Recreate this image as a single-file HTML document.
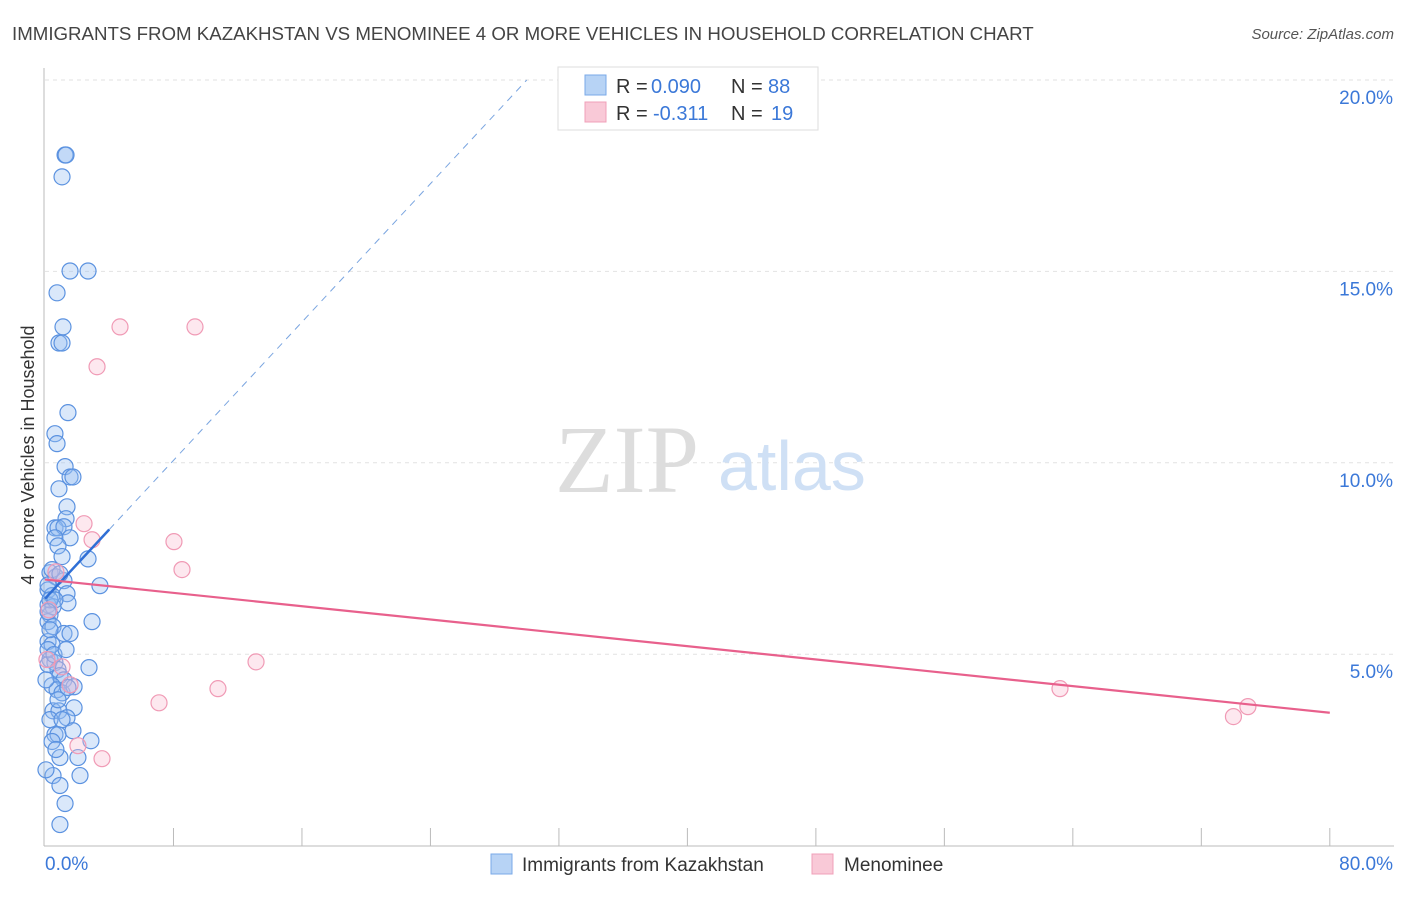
<!DOCTYPE html>
<html><head><meta charset="utf-8"><style>
body{margin:0;background:#fff;font-family:"Liberation Sans",sans-serif}
</style></head><body>
<svg width="1406" height="892" xmlns="http://www.w3.org/2000/svg" style="font-family:'Liberation Sans',sans-serif">
<text x="12" y="40" font-size="18.7" fill="#444">IMMIGRANTS FROM KAZAKHSTAN VS MENOMINEE 4 OR MORE VEHICLES IN HOUSEHOLD CORRELATION CHART</text>
<text x="1394" y="39" font-size="15" fill="#555" font-style="italic" text-anchor="end">Source: ZipAtlas.com</text>
<g id="grid"></g>
<text x="555" y="492" font-size="96" fill="#ddd" font-family="Liberation Serif">ZIP</text>
<text x="718" y="490" font-size="70" fill="#cfe0f5">atlas</text>
<g id="marks"></g>
<text x="34" y="455" font-size="18" fill="#333" text-anchor="middle" transform="rotate(-90 34 455)">4 or more Vehicles in Household</text>
<g>
<rect x="558" y="67" width="260" height="63" fill="#fff" stroke="#ddd"/>
<rect x="585" y="75" width="21" height="20" fill="#b7d3f5" stroke="#7aaae8"/>
<rect x="585" y="102" width="21" height="20" fill="#f9c9d7" stroke="#f0a0b8"/>
<text x="616" y="93" font-size="20" fill="#333">R =</text>
<text x="651" y="93" font-size="20" fill="#3b78d8">0.090</text>
<text x="731" y="93" font-size="20" fill="#333">N =</text>
<text x="768" y="93" font-size="20" fill="#3b78d8">88</text>
<text x="616" y="120" font-size="20" fill="#333">R =</text>
<text x="653" y="120" font-size="20" fill="#3b78d8">-0.311</text>
<text x="731" y="120" font-size="20" fill="#333">N =</text>
<text x="771" y="120" font-size="20" fill="#3b78d8">19</text>
</g>
<g>
<rect x="491" y="854" width="21" height="20" fill="#b7d3f5" stroke="#7aaae8"/>
<text x="522" y="871" font-size="19" fill="#333">Immigrants from Kazakhstan</text>
<rect x="812" y="854" width="21" height="20" fill="#f9c9d7" stroke="#f0a0b8"/>
<text x="844" y="871" font-size="19" fill="#333">Menominee</text>
</g>
</svg>
<script>
const yTicks=[5,10,15,20];
const yTickLabels=["5.0%","10.0%","15.0%","20.0%"];
const xTickLabels=["0.0%","80.0%"];
const blueX=[1.25,1.31,1.06,1.56,2.68,0.75,1.12,0.87,1.06,1.43,0.62,0.75,1.25,1.56,1.74,0.87,1.37,1.31,0.62,0.81,1.18,0.62,1.56,0.81,1.06,2.68,0.31,0.68,1.18,0.19,1.37,3.42,0.44,0.19,1.43,0.50,0.31,0.19,2.93,0.50,1.18,1.56,0.19,0.44,0.31,0.62,2.74,0.81,0.19,0.93,1.18,0.44,0.75,1.06,1.81,1.43,0.50,0.87,1.81,1.37,0.62,0.81,1.74,2.86,0.44,0.93,2.05,0.50,2.18,0.93,1.25,0.93,0.19,0.31,0.31,0.19,0.81,0.62,0.44,0.93,0.19,0.56,1.31,0.06,0.31,1.06,0.68,0.06];
const blueY=[18.04,18.04,17.47,15.01,15.01,14.44,13.55,13.13,13.13,11.31,10.76,10.50,9.90,9.63,9.63,9.32,8.85,8.54,8.30,8.30,8.33,8.04,8.04,7.83,7.55,7.49,7.13,7.02,6.92,6.68,6.58,6.79,6.53,6.29,6.34,6.24,6.03,5.85,5.85,5.72,5.54,5.54,5.33,5.25,4.86,4.78,4.65,4.60,4.73,4.44,4.33,4.18,4.07,3.99,4.15,4.13,3.52,3.52,3.60,3.34,2.90,2.90,3.00,2.74,2.72,2.30,2.30,1.83,1.83,1.57,1.10,0.55,6.81,6.42,5.64,5.12,3.81,6.42,7.21,7.10,6.11,4.99,5.12,4.33,3.29,3.29,2.51,1.98];
const pinkX=[4.67,9.34,3.24,2.43,2.93,8.03,8.53,0.68,0.25,13.14,1.06,0.12,1.56,10.77,7.10,2.05,3.55,63.2,74.9,74.0];
const pinkY=[13.55,13.55,12.51,8.41,7.99,7.94,7.21,7.15,6.16,4.80,4.67,4.86,4.20,4.10,3.73,2.61,2.27,4.10,3.63,3.37];
const blueTrend=[6.45,0.4517];
const pinkTrend=[6.95,-0.0435];
const NS="http://www.w3.org/2000/svg";
const X=v=>45+v*16.06, Y=v=>845.6-v*38.28;
function mk(t,a,p){const e=document.createElementNS(NS,t);for(const k in a)e.setAttribute(k,a[k]);p.appendChild(e);return e;}
const g=document.getElementById('grid'), m=document.getElementById('marks');
mk('line',{x1:44,y1:68,x2:44,y2:846,stroke:'#bbb'},g);
mk('line',{x1:44,y1:846,x2:1394,y2:846,stroke:'#bbb'},g);
yTicks.forEach((t,i)=>{
 const l=mk('line',{x1:45,y1:Y(t),x2:1394,y2:Y(t),stroke:'#e2e2e2','stroke-dasharray':'4,4'},g);
 
 
 const tx=mk('text',{x:1393,y:Y(t)+24,'font-size':19,fill:'#3b78d8','text-anchor':'end'},g);
 tx.textContent=yTickLabels[i];
 
 
});
for(let i=1;i<=10;i++){const l=mk('line',{x1:X(i*8),y1:828,x2:X(i*8),y2:846,stroke:'#bbb'},g);
 
 }
[[0,'start',45],[80,'end',1393]].forEach((d,i)=>{const tx=mk('text',{x:d[2],y:870,'font-size':19,fill:'#3b78d8','text-anchor':d[1]},g);
 tx.textContent=xTickLabels[i];
 
 });
blueX.forEach((v,i)=>{const c=mk('circle',{cx:X(v),cy:Y(blueY[i]),r:8,fill:'rgba(150,190,240,0.35)',stroke:'#5b92e0','stroke-width':1.2},m);
 
 });
pinkX.forEach((v,i)=>{const c=mk('circle',{cx:X(v),cy:Y(pinkY[i]),r:8,fill:'rgba(248,190,210,0.35)',stroke:'#f09ab5','stroke-width':1.2},m);
 
 });
const bx2=(20-blueTrend[0])/blueTrend[1];
let l=mk('line',{x1:X(4),y1:Y(blueTrend[0]+4*blueTrend[1]),x2:X(bx2),y2:Y(20),stroke:'#7aa5e0','stroke-width':1,'stroke-dasharray':'7,6'},m);


l=mk('line',{x1:X(0),y1:Y(blueTrend[0]),x2:X(4),y2:Y(blueTrend[0]+4*blueTrend[1]),stroke:'#2f6fd6','stroke-width':2.5},m);


l=mk('line',{x1:X(0),y1:Y(pinkTrend[0]),x2:X(80),y2:Y(pinkTrend[0]+80*pinkTrend[1]),stroke:'#e8608c','stroke-width':2.2},m);


</script>
</body></html>
